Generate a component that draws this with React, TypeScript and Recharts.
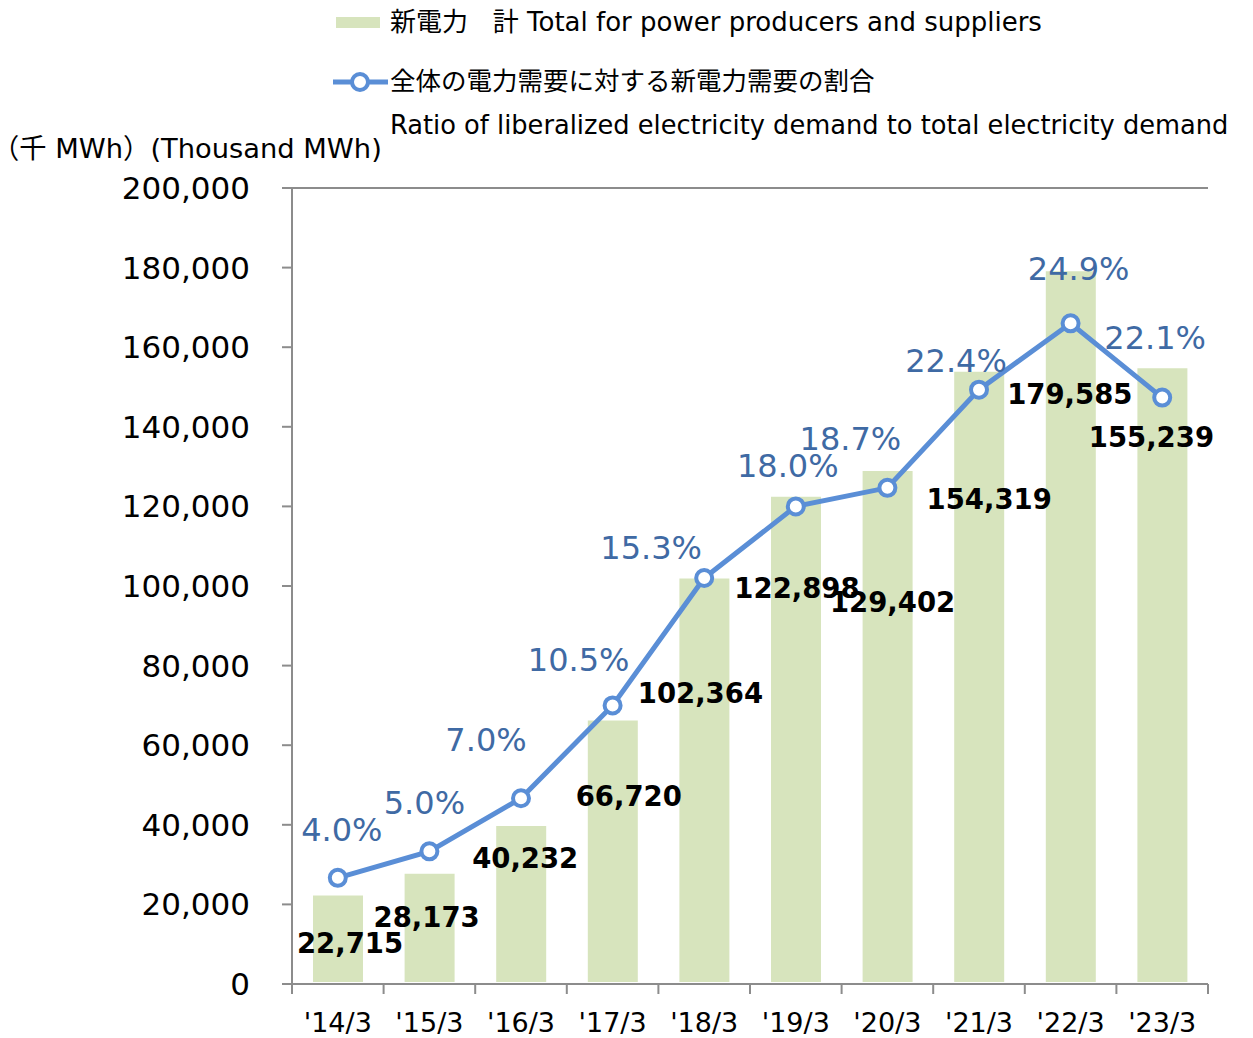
import { ComposedChart, Bar, Line, XAxis, YAxis, CartesianGrid, LabelList } from 'recharts';

const categories = ["'14/3", "'15/3", "'16/3", "'17/3", "'18/3", "'19/3", "'20/3", "'21/3", "'22/3", "'23/3"];
const totals = [22715, 28173, 40232, 66720, 102364, 122898, 129402, 154319, 179585, 155239];
const shares = [4.0, 5.0, 7.0, 10.5, 15.3, 18.0, 18.7, 22.4, 24.9, 22.1];
const volumeTicks = [0, 20000, 40000, 60000, 80000, 100000, 120000, 140000, 160000, 180000, 200000];
const shareTicks = [0, 5, 10, 15, 20, 25, 30];

const data = categories.map((period, i) => ({ period, total: totals[i], share: shares[i] }));

// label placement, as in the source chart (text centre relative to bar top / point)
const totalLabelOffsets = [
  [12, 49], [-3, 45], [4, 34], [16, 78], [-4, 116],
  [1, 93], [5, 133], [10, 129], [-1, 125], [-11, 71],
];
const shareLabelOffsets = [
  [4, -48], [-5, -48], [-35, -58], [-34, -45], [-53, -30],
  [-8, -40], [-37, -49], [-23, -29], [8, -54], [-7, -60],
];

const W = 1253;
const H = 1038;
const PLOT_LEFT = 292;
const PLOT_RIGHT = 1208;
const PLOT_TOP = 188;
const PLOT_BOTTOM = 984;
const STEP = (PLOT_RIGHT - PLOT_LEFT) / categories.length;

const FONT = '"DejaVu Sans", Verdana, "Noto Sans CJK JP", sans-serif';
const AXIS = '#8c8c8c';
const BAR = '#d7e4bd';
const LINE = '#5a8ed6';
const PCT = '#3f6aa4';

const fmt = (v: number) => v.toLocaleString('en-US');

const XTick = (props: any) => {
  const { x, y, payload, index } = props;
  const left = x - STEP / 2;
  const right = x + STEP / 2;
  return (
    <g>
      <line x1={left} x2={left} y1={y} y2={y + 10} stroke={AXIS} strokeWidth={2} />
      {index === categories.length - 1 && (
        <line x1={right} x2={right} y1={y} y2={y + 10} stroke={AXIS} strokeWidth={2} />
      )}
      <text x={x} y={y + 38} textAnchor="middle" dominantBaseline="central" fontSize={27} fill="#000" fontFamily={FONT}>
        {payload.value}
      </text>
    </g>
  );
};

const TotalLabel = (props: any) => {
  const { x, y, width, value, index } = props;
  const [dx, dy] = totalLabelOffsets[index];
  return (
    <text x={x + width / 2 + dx} y={y + dy} textAnchor="middle" dominantBaseline="central"
      fontSize={27.5} fontWeight="bold" fill="#000" fontFamily={FONT}>
      {fmt(value)}
    </text>
  );
};

const ShareLabel = (props: any) => {
  const { x, y, value, index } = props;
  const [dx, dy] = shareLabelOffsets[index];
  return (
    <text x={x + dx} y={y + dy} textAnchor="middle" dominantBaseline="central"
      fontSize={32} fill={PCT} fontFamily={FONT}>
      {value.toFixed(1)}%
    </text>
  );
};

const textStyle = (left: number, top: number, size: number): React.CSSProperties => ({
  position: 'absolute',
  left,
  top,
  fontSize: size,
  lineHeight: `${size}px`,
  fontFamily: FONT,
  color: '#000',
  whiteSpace: 'nowrap',
});

export default function App() {
  return (
    <div style={{ position: 'absolute', left: 0, top: 0, width: W, height: H, background: '#fff' }}>
      <div style={{ position: 'absolute', left: 336, top: 17, width: 44, height: 11, background: BAR }} />
      <div style={textStyle(390, 9, 26)}>新電力&nbsp;&nbsp;&nbsp;計 Total for power producers and suppliers</div>
      <svg style={{ position: 'absolute', left: 330, top: 70 }} width={60} height={24}>
        <line x1={3} x2={58} y1={12} y2={12} stroke={LINE} strokeWidth={5} />
        <circle cx={30} cy={12} r={8} fill="#fff" stroke={LINE} strokeWidth={4} />
      </svg>
      <div style={textStyle(390, 69, 25.5)}>全体の電力需要に対する新電力需要の割合</div>
      <div style={textStyle(390, 113, 25.7)}>Ratio of liberalized electricity demand to total electricity demand</div>
      <div style={{ ...textStyle(8, 135, 27.3), marginLeft: -16 }}>（千 MWh）(Thousand MWh)</div>

      <div style={{ position: 'absolute', left: 0, top: 0 }}>
        <ComposedChart
          width={W}
          height={H}
          data={data}
          margin={{ top: PLOT_TOP, right: W - PLOT_RIGHT, bottom: 0, left: 0 }}
          barCategoryGap={0}
        >
          <CartesianGrid yAxisId="share" vertical={false} stroke={AXIS} strokeWidth={2} />
          <XAxis
            dataKey="period"
            height={H - PLOT_BOTTOM}
            axisLine={{ stroke: AXIS, strokeWidth: 2 }}
            tickLine={false}
            tickSize={0}
            tickMargin={0}
            tick={<XTick />}
            interval={0}
          />
          <YAxis
            yAxisId="total"
            width={PLOT_LEFT}
            domain={[0, 200000]}
            ticks={volumeTicks}
            tickFormatter={fmt}
            axisLine={{ stroke: AXIS, strokeWidth: 2 }}
            tickLine={{ stroke: AXIS, strokeWidth: 2 }}
            tickSize={10}
            tickMargin={32}
            tick={{ fontSize: 31, fill: '#000', fontFamily: FONT }}
          />
          <YAxis
            yAxisId="share"
            orientation="right"
            width={0}
            domain={[0, 30]}
            ticks={shareTicks}
            tick={false}
            tickLine={false}
            axisLine={{ stroke: AXIS, strokeWidth: 2 }}
          />
          <Bar yAxisId="total" dataKey="total" fill={BAR} barSize={54} stroke="#fff" strokeWidth={4} isAnimationActive={false}>
            <LabelList dataKey="total" content={<TotalLabel />} />
          </Bar>
          <Line
            yAxisId="share"
            dataKey="share"
            stroke={LINE}
            strokeWidth={5}
            dot={{ r: 8, fill: '#fff', stroke: LINE, strokeWidth: 4 }}
            activeDot={false}
            isAnimationActive={false}
          >
            <LabelList dataKey="share" content={<ShareLabel />} />
          </Line>
        </ComposedChart>
      </div>
    </div>
  );
}
